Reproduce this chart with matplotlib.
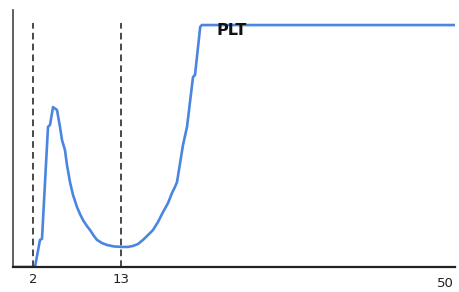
import matplotlib.pyplot as plt

# curve (x in time units, y as % of plateau)
time_x = [-0.5, 2.25, 2.875, 3.125, 3.875, 4.125, 4.5, 5.0, 5.375, 5.625,
          6.0, 6.25, 6.625, 7.0, 7.5, 7.875, 8.25, 8.75, 9.125, 9.625,
          10.0, 10.625, 11.25, 12.125, 13.125, 13.875, 14.5, 15.125, 15.75,
          16.375, 17.0, 17.625, 18.25, 18.875, 19.375, 19.75, 20.0, 20.75,
          21.25, 22.0, 22.25, 22.9, 23.1, 54.75]
level_y = [0, 0, 11.2, 11.6, 57.9, 58.7, 66.1, 64.9, 57.9, 52.5,
           48.3, 42.1, 35.1, 29.8, 24.8, 21.9, 19.4, 16.9, 15.3, 12.8,
           11.2, 9.9, 9.1, 8.5, 8.3, 8.3, 8.7, 9.5, 11.2,
           13.2, 15.3, 18.6, 22.7, 26.4, 30.6, 33.1, 35.1, 50.4,
           57.9, 78.5, 79.3, 99.2, 100, 100]

marker_x = [2, 13]
tick_labels = ['2', '13']
end_label = '50'
label_text = 'PLT'

fig = plt.figure(figsize=(4.59, 2.92), dpi=100)
ax = fig.add_axes([0.0283, 0.0856, 0.963, 0.88])

ax.plot(time_x, level_y, color='#4a86e0', lw=1.9, solid_joinstyle='round')
ax.vlines(marker_x, 0, 101, colors='#2a2a2a', linestyles=(0, (4, 2.5)), lw=1.2)

ax.text(24.9, 97.9, label_text, fontsize=11.5, fontweight='bold',
        ha='left', va='center', color='#111111')

ax.set_xlim(-0.5, 54.75)
ax.set_ylim(0, 106.2)
ax.set_xticks(marker_x)
ax.set_xticklabels(tick_labels, fontsize=9.5, color='#222222')
ax.tick_params(axis='x', length=0, pad=4)
ax.set_yticks([])
ax.text(53.5, -0.04, end_label, transform=ax.get_xaxis_transform(),
        fontsize=9.5, color='#222222', ha='center', va='top')

for side in ['top', 'right']:
    ax.spines[side].set_visible(False)
ax.spines['left'].set_color('#444444')
ax.spines['bottom'].set_color('#222222')
ax.spines['left'].set_linewidth(1.2)
ax.spines['bottom'].set_linewidth(1.6)

fig.savefig('out.png', dpi=100)
